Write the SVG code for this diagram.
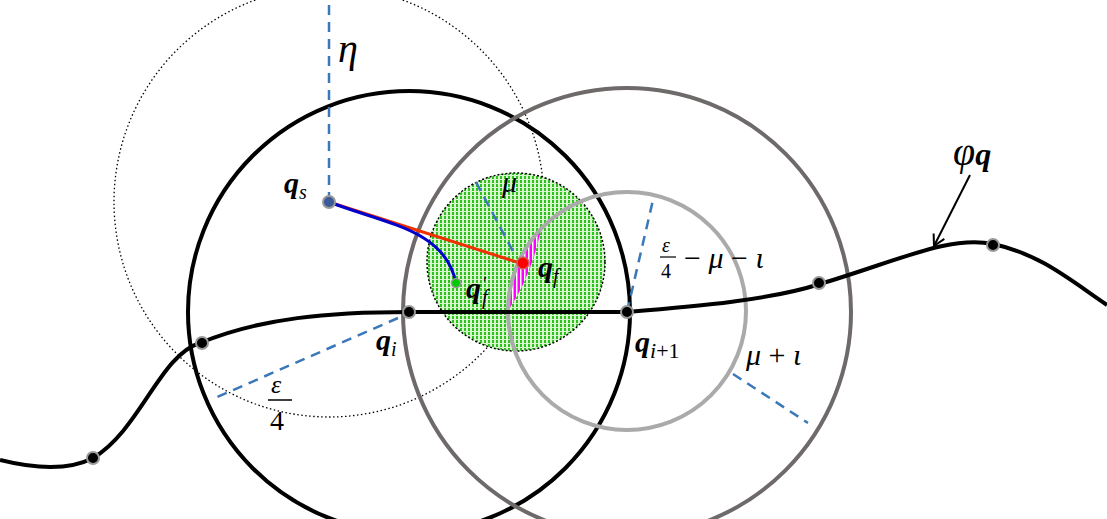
<svg xmlns="http://www.w3.org/2000/svg" width="1107" height="519" viewBox="0 0 1107 519">
<defs>
<style>
.t{font-family:"Liberation Serif",serif;font-style:italic;fill:#000}
.b{font-weight:bold}
.n{font-family:"Liberation Serif",serif;fill:#000}
.dash{stroke:#3a78b8;stroke-width:2.5;stroke-dasharray:10,7;fill:none}
.dot{fill:#000;stroke:#999;stroke-width:2}
</style>
<pattern id="gr" width="4" height="4" patternUnits="userSpaceOnUse"><rect width="4" height="4" fill="#d8f5d0"/><rect x="0" y="0" width="2" height="3" fill="#2cc21c"/></pattern>
<pattern id="mg" width="4" height="4" patternUnits="userSpaceOnUse"><rect width="4" height="4" fill="#f0f"/><rect width="1.5" height="4" fill="#fff"/></pattern>
<marker id="ar" markerWidth="14" markerHeight="14" refX="12" refY="7" orient="auto" markerUnits="userSpaceOnUse"><path d="M1,1 L12,7 L1,13" fill="none" stroke="#000" stroke-width="2"/></marker>
</defs>
<g id="circles">
<circle cx="329" cy="202" r="215" fill="none" stroke="#000" stroke-width="1.3" stroke-dasharray="1.5,2.5"/>
<circle id="green" cx="516" cy="262" r="89" fill="url(#gr)" stroke="#000" stroke-width="1.5" stroke-dasharray="2,2"/>
<path id="lens" d="M541,230 Q530,280 507,312 Q510,265 541,230 Z" fill="url(#mg)"/>
<circle cx="409" cy="312" r="221" fill="none" stroke="#000" stroke-width="4"/>
<circle cx="627" cy="312" r="224" fill="none" stroke="#6e6a6a" stroke-width="4"/>
<circle cx="627" cy="311" r="119" fill="none" stroke="#aaa" stroke-width="4"/>
</g>
<g id="connectors">
<path d="M0,460 C40,470 70,470 93,458 C140,430 160,355 200,343 C260,318 330,312 409,312 L627,312 C700,306 770,300 820,284 C900,260 950,235 993,244 C1040,254 1070,280 1107,305" fill="none" stroke="#000" stroke-width="4"/>
<line class="dash" x1="329" y1="202" x2="329" y2="0"/>
<line class="dash" x1="398" y1="318" x2="215" y2="398"/>
<line class="dash" x1="627" y1="312" x2="653" y2="200"/>
<line class="dash" x1="733" y1="374" x2="808" y2="423"/>
<line class="dash" x1="476" y1="182" x2="515" y2="255"/>
<line x1="329" y1="202" x2="523" y2="264" stroke="#f03000" stroke-width="3"/>
<path d="M329,202 C390,225 445,230 456,283" fill="none" stroke="#00c" stroke-width="3"/>
<line x1="970" y1="175" x2="934" y2="246" stroke="#000" stroke-width="2" marker-end="url(#ar)"/>
</g>
<g id="points">
<circle cx="329" cy="202" r="6" fill="#3a5a9a" stroke="#999" stroke-width="2"/>
<circle cx="523" cy="263" r="6" fill="#f00" stroke="#c66" stroke-width="1.5"/>
<circle cx="456" cy="283" r="4.5" fill="#0c0" stroke="#999" stroke-width="1.5"/>
<circle class="dot" cx="409" cy="312" r="6"/>
<circle class="dot" cx="627" cy="312" r="6"/>
<circle class="dot" cx="202" cy="343" r="6"/>
<circle class="dot" cx="93" cy="458" r="6"/>
<circle class="dot" cx="819" cy="283" r="6"/>
<circle class="dot" cx="993" cy="245" r="6"/>
</g>
<g id="labels">
<text class="t" x="338" y="62" font-size="40">η</text>
<text class="t b" x="284" y="193" font-size="30">q<tspan font-size="20" dy="6" font-weight="normal">s</tspan></text>
<text class="t" x="502" y="192" font-size="30">μ</text>
<text class="t b" x="538" y="277" font-size="30">q<tspan font-size="20" dy="6" font-weight="normal">f</tspan></text>
<text class="t b" x="466" y="298" font-size="30">q</text>
<text class="t" x="482" y="290" font-size="18">′</text>
<text class="t" x="482" y="304" font-size="20">f</text>
<text class="t b" x="376" y="350" font-size="30">q<tspan font-size="20" dy="6" font-weight="normal">i</tspan></text>
<text class="t b" x="635" y="352" font-size="30">q<tspan font-size="22" dy="6" font-weight="normal">i</tspan><tspan class="n" font-style="normal" font-weight="normal" font-size="22">+1</tspan></text>
<text class="t" x="271" y="393" font-size="26">ε</text>
<line x1="268" y1="400" x2="292" y2="400" stroke="#000" stroke-width="1.5"/>
<text class="n" x="270" y="430" font-size="28">4</text>
<text class="t" x="662" y="252" font-size="20">ε</text>
<line x1="660" y1="257" x2="676" y2="257" stroke="#000" stroke-width="1.2"/>
<text class="n" x="661" y="278" font-size="20">4</text>
<text class="t" x="684" y="268" font-size="30"><tspan class="n" font-style="normal">− </tspan>μ<tspan class="n" font-style="normal"> − </tspan>ι</text>
<text class="t" x="746" y="365" font-size="30">μ<tspan class="n" font-style="normal"> + </tspan>ι</text>
<text class="t" x="953" y="165" font-size="40">φ<tspan class="b" font-size="32">q</tspan></text>
</g>
</svg>
